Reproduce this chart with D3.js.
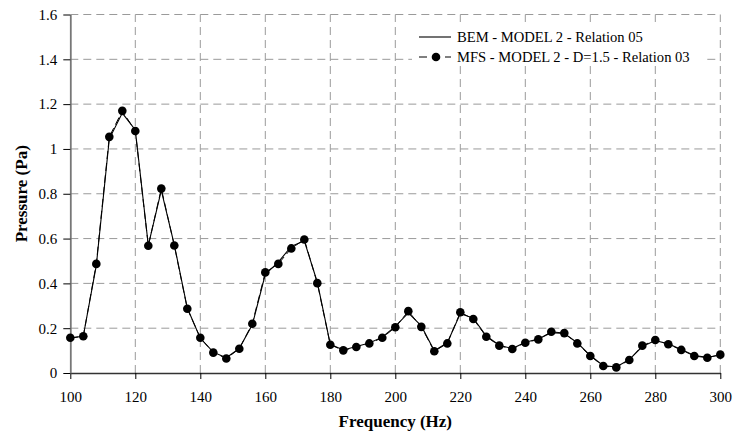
<!DOCTYPE html>
<html>
<head>
<meta charset="utf-8">
<script src="https://cdn.jsdelivr.net/npm/d3@7"></script>
</head>
<body style="margin:0">
<svg id="chart" width="733" height="432" font-family="Liberation Serif"></svg>
<script>
// ---- data ----
const frequencies = [100,104,108,112,116,120,124,128,132,136,140,144,148,152,156,160,164,168,172,176,180,184,188,192,196,200,204,208,212,216,220,224,228,232,236,240,244,248,252,256,260,264,268,272,276,280,284,288,292,296,300];
const mfsValues = [0.157,0.164,0.487,1.054,1.170,1.080,0.568,0.823,0.569,0.287,0.157,0.091,0.065,0.108,0.220,0.449,0.487,0.556,0.596,0.401,0.126,0.101,0.116,0.132,0.157,0.204,0.276,0.206,0.097,0.132,0.271,0.241,0.162,0.122,0.107,0.135,0.150,0.184,0.178,0.132,0.076,0.031,0.025,0.058,0.122,0.147,0.128,0.103,0.076,0.068,0.082];
const bemValues = [0.155,0.165,0.480,1.045,1.160,1.085,0.570,0.815,0.572,0.290,0.155,0.093,0.068,0.110,0.215,0.440,0.495,0.565,0.590,0.405,0.128,0.103,0.118,0.134,0.160,0.208,0.268,0.210,0.099,0.135,0.265,0.245,0.165,0.124,0.109,0.137,0.152,0.180,0.176,0.135,0.078,0.033,0.027,0.060,0.118,0.145,0.130,0.105,0.078,0.070,0.080];
const xTicks = [100,120,140,160,180,200,220,240,260,280,300];
const yTicks = [0,0.2,0.4,0.6,0.8,1.0,1.2,1.4,1.6];
const seriesNames = ["BEM - MODEL 2 - Relation 05", "MFS - MODEL 2 - D=1.5 - Relation 03"];
const xTitle = "Frequency (Hz)";
const yTitle = "Pressure (Pa)";

// ---- layout ----
const W = 733, H = 432;
const FONT = "Liberation Serif";
const m = {left: 70.3, right: 12.7, top: 14.5, bottom: 59};
const svg = d3.select("#chart");
const x = d3.scaleLinear().domain([100,300]).range([m.left, W - m.right]);
const y = d3.scaleLinear().domain([0,1.6]).range([H - m.bottom, m.top]);

// grid
const grid = svg.append("g");
grid.selectAll("line.h").data(yTicks.filter(d => d > 0)).enter().append("line")
  .attr("x1", x(100)).attr("x2", x(300))
  .attr("y1", d => y(d)).attr("y2", d => y(d))
  .attr("stroke", "#9a9a9a").attr("stroke-width", 1).attr("stroke-dasharray", "8,5");
grid.selectAll("line.v").data(xTicks.filter(d => d > 100)).enter().append("line")
  .attr("x1", d => x(d)).attr("x2", d => x(d))
  .attr("y1", y(0)).attr("y2", y(1.6))
  .attr("stroke", "#9a9a9a").attr("stroke-width", 1).attr("stroke-dasharray", "8,5");

// axes
const xAxis = svg.append("g").attr("transform", `translate(0,${y(0)})`)
  .call(d3.axisBottom(x).tickValues(xTicks).tickSize(6).tickSizeOuter(0).tickPadding(12).tickFormat(d3.format("d")));
const yAxis = svg.append("g").attr("transform", `translate(${x(100)},0)`)
  .call(d3.axisLeft(y).tickValues(yTicks).tickSize(7).tickSizeOuter(0).tickPadding(6).tickFormat(d => String(+d.toFixed(1))));
[xAxis, yAxis].forEach(a => {
  a.attr("font-family", FONT).attr("font-size", 15);
  a.selectAll("text").attr("font-family", FONT).attr("font-size", 15).attr("fill", "#000");
  a.selectAll("line").attr("stroke", "#000");
});
xAxis.select(".domain").attr("stroke", "#333").attr("stroke-width", 1.3);
yAxis.select(".domain").attr("stroke", "#777").attr("stroke-width", 1.8);

// titles
svg.append("text").attr("x", (x(100)+x(300))/2).attr("y", 427)
  .attr("text-anchor", "middle").attr("font-weight", "bold").attr("font-size", 17)
  .attr("font-family", FONT).text(xTitle);
svg.append("text").attr("transform", `translate(27,${(y(0)+y(1.6))/2}) rotate(-90)`)
  .attr("text-anchor", "middle").attr("font-weight", "bold").attr("font-size", 17)
  .attr("font-family", FONT).text(yTitle);

// series
const bem = frequencies.map((f,i) => [f, bemValues[i]]);
const mfs = frequencies.map((f,i) => [f, mfsValues[i]]);
const line = d3.line().x(d => x(d[0])).y(d => y(d[1]));
svg.append("path").datum(mfs).attr("d", line).attr("fill", "none")
  .attr("stroke", "#000").attr("stroke-width", 1).attr("stroke-dasharray", "8,4");
svg.append("path").datum(bem).attr("d", line).attr("fill", "none")
  .attr("stroke", "#000").attr("stroke-width", 1.1);
svg.append("g").selectAll("circle").data(mfs).enter().append("circle")
  .attr("cx", d => x(d[0])).attr("cy", d => y(d[1])).attr("r", 4.3).attr("fill", "#000");

// legend
const lg = svg.append("g");
lg.append("rect").attr("x", 412).attr("y", 23).attr("width", 293).attr("height", 43).attr("fill", "#fff");
const rows = [37, 57];
lg.append("line").attr("x1", 419).attr("x2", 451).attr("y1", rows[0]).attr("y2", rows[0])
  .attr("stroke", "#000").attr("stroke-width", 1.1);
lg.append("line").attr("x1", 419).attr("x2", 451).attr("y1", rows[1]).attr("y2", rows[1])
  .attr("stroke", "#000").attr("stroke-width", 1).attr("stroke-dasharray", "8,5");
lg.append("circle").attr("cx", 436).attr("cy", rows[1]).attr("r", 4.3).attr("fill", "#000");
lg.selectAll("text.l").data(seriesNames).enter().append("text")
  .attr("x", 457).attr("y", (d,i) => rows[i] + 5)
  .attr("font-size", 14.6).attr("fill", "#000").attr("font-family", FONT).text(d => d);
</script>
</body>
</html>
